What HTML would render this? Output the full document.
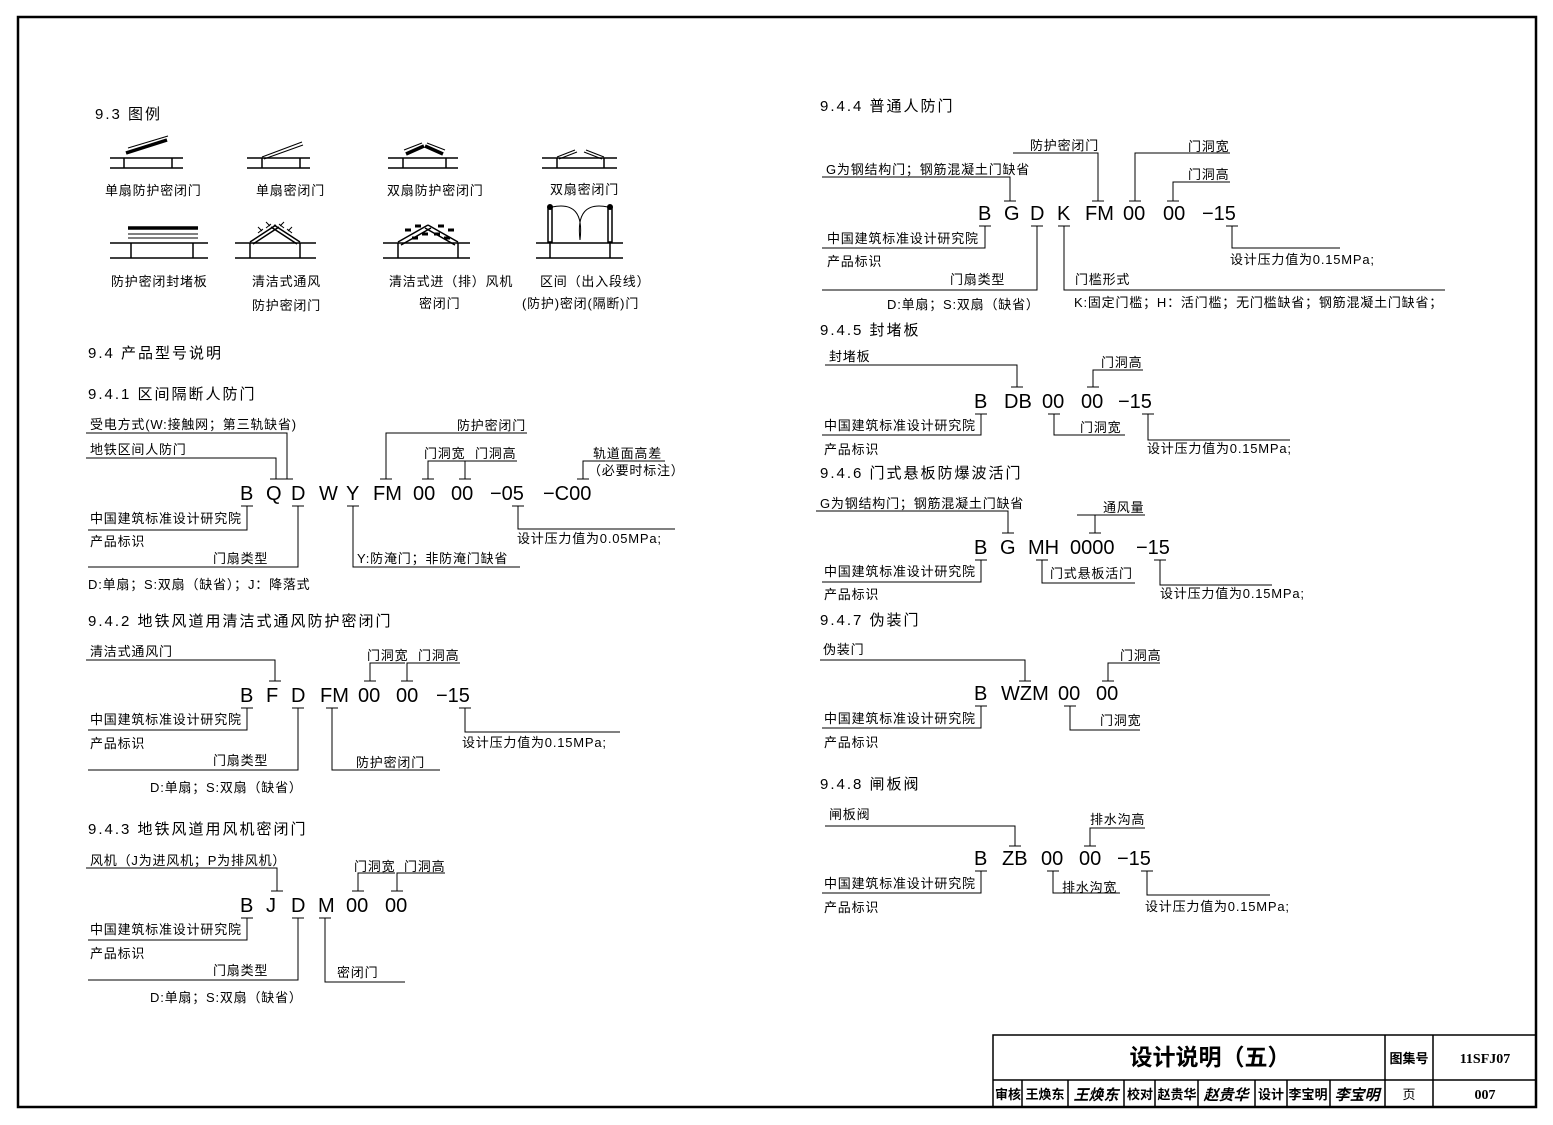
<!DOCTYPE html>
<html><head><meta charset="utf-8"><style>
html,body{margin:0;padding:0;background:#fff}
svg{display:block}
text{font-family:"Liberation Sans","Noto Sans CJK SC","WenQuanYi Zen Hei",sans-serif;fill:#000}
.s{font-size:13px;letter-spacing:0.8px}
.h{font-size:15px;letter-spacing:2px}
.c{font-size:20px;font-weight:normal}
line,path,polyline,rect{stroke:#000;fill:none}
</style></head><body>
<svg width="1553" height="1125" viewBox="0 0 1553 1125" xmlns="http://www.w3.org/2000/svg">
<rect x="18" y="17" width="1518" height="1090" stroke-width="2.5"/>

<!-- 9.3 legend -->
<text class="h" x="95" y="119">9.3  图例</text>
<g stroke-width="1.5">
<line x1="110" y1="158" x2="183" y2="158"/><line x1="110" y1="168" x2="183" y2="168"/>
<line x1="124" y1="158" x2="124" y2="168"/><line x1="172" y1="158" x2="172" y2="168"/>
<line x1="126" y1="153" x2="167" y2="140" stroke-width="3.5"/><line x1="128" y1="148" x2="168" y2="136" stroke-width="1"/>
<line x1="247" y1="158" x2="310" y2="158"/><line x1="247" y1="168" x2="310" y2="168"/>
<line x1="262" y1="158" x2="262" y2="168"/><line x1="300" y1="158" x2="300" y2="168"/>
<line x1="262" y1="157" x2="302" y2="142" stroke-width="1"/><line x1="264" y1="159" x2="303" y2="145" stroke-width="1"/>
<line x1="388" y1="158" x2="458" y2="158"/><line x1="388" y1="168" x2="458" y2="168"/>
<line x1="403" y1="158" x2="403" y2="168"/><line x1="446" y1="158" x2="446" y2="168"/>
<line x1="406" y1="154" x2="424" y2="146" stroke-width="3.5"/><line x1="404" y1="150" x2="422" y2="143" stroke-width="1"/>
<line x1="443" y1="154" x2="425" y2="146" stroke-width="3.5"/><line x1="445" y1="150" x2="427" y2="143" stroke-width="1"/>
<line x1="542" y1="158" x2="617" y2="158"/><line x1="542" y1="168" x2="617" y2="168"/>
<line x1="557" y1="158" x2="557" y2="168"/><line x1="604" y1="158" x2="604" y2="168"/>
<line x1="557" y1="157" x2="575" y2="150" stroke-width="1"/><line x1="559" y1="159" x2="577" y2="152" stroke-width="1"/>
<line x1="604" y1="157" x2="586" y2="150" stroke-width="1"/><line x1="602" y1="159" x2="584" y2="152" stroke-width="1"/>
<line x1="110" y1="243" x2="208" y2="243"/><line x1="110" y1="258" x2="208" y2="258"/>
<line x1="131" y1="243" x2="131" y2="258"/><line x1="193" y1="243" x2="193" y2="258"/>
<line x1="128" y1="228" x2="198" y2="228" stroke-width="3.5"/><line x1="128" y1="234" x2="198" y2="234" stroke-width="1"/><line x1="128" y1="238" x2="198" y2="238" stroke-width="1"/>
<line x1="235" y1="243" x2="316" y2="243"/><line x1="235" y1="258" x2="316" y2="258"/>
<line x1="250" y1="243" x2="250" y2="258"/><line x1="300" y1="243" x2="300" y2="258"/>
<line x1="250" y1="242" x2="276" y2="225"/><line x1="253" y1="244" x2="279" y2="227"/>
<line x1="300" y1="242" x2="274" y2="225"/><line x1="297" y1="244" x2="271" y2="227"/>
<path d="M258 233 l5 -4 M262 231 l-4 -4 M266 228 l5 -4 M270 226 l-4 -4 M292 233 l-5 -4 M288 231 l4 -4 M284 228 l-5 -4 M280 226 l4 -4" stroke-width="1"/>
<line x1="383" y1="243" x2="470" y2="243"/><line x1="383" y1="258" x2="470" y2="258"/>
<line x1="398" y1="243" x2="398" y2="258"/><line x1="458" y1="243" x2="458" y2="258"/>
<line x1="398" y1="242" x2="428" y2="225"/><line x1="401" y1="245" x2="431" y2="228"/>
<line x1="458" y1="242" x2="428" y2="225"/><line x1="455" y1="245" x2="425" y2="228"/>
<path d="M405 230 h6 M415 226 h6 M412 238 h6 M422 234 h6 M438 226 h6 M448 230 h6 M434 234 h6 M444 238 h6" stroke-width="3"/>
<line x1="536" y1="243" x2="623" y2="243"/><line x1="536" y1="258" x2="623" y2="258"/>
<line x1="550" y1="243" x2="550" y2="258"/><line x1="610" y1="243" x2="610" y2="258"/>
<rect x="548" y="208" width="4" height="34" stroke-width="1.5"/><rect x="608" y="208" width="4" height="34" stroke-width="1.5"/>
<circle cx="550" cy="207" r="3" fill="#000"/><circle cx="610" cy="207" r="3" fill="#000"/>
<path d="M552 207 Q585 200 580 240 M608 207 Q575 200 580 240" stroke-width="1"/>
</g>
<text class="s" x="105" y="195">单扇防护密闭门</text>
<text class="s" x="256" y="195">单扇密闭门</text>
<text class="s" x="387" y="195">双扇防护密闭门</text>
<text class="s" x="550" y="194">双扇密闭门</text>
<text class="s" x="111" y="286">防护密闭封堵板</text>
<text class="s" x="252" y="286">清洁式通风</text>
<text class="s" x="252" y="310">防护密闭门</text>
<text class="s" x="389" y="286">清洁式进（排）风机</text>
<text class="s" x="419" y="308">密闭门</text>
<text class="s" x="540" y="286">区间（出入段线）</text>
<text class="s" x="522" y="308">(防护)密闭(隔断)门</text>

<text class="h" x="88" y="358">9.4  产品型号说明</text>
<text class="h" x="88" y="399">9.4.1  区间隔断人防门</text>

<g stroke-width="1">
<polyline points="86,433 287,433 287,479"/><line x1="281" y1="479" x2="293" y2="479"/>
<polyline points="86,458 276,458 276,479"/><line x1="270" y1="479" x2="282" y2="479"/>
<polyline points="527,433 386,433 386,479"/><line x1="380" y1="479" x2="392" y2="479"/>
<polyline points="466,461 428,461 428,479"/><line x1="422" y1="479" x2="434" y2="479"/>
<polyline points="517,461 465,461 465,479"/><line x1="459" y1="479" x2="471" y2="479"/>
<polyline points="665,461 583,461 583,479"/><line x1="577" y1="479" x2="589" y2="479"/>
<line x1="241" y1="506" x2="253" y2="506"/><polyline points="247,506 247,530 88,530"/>
<line x1="292" y1="506" x2="304" y2="506"/><polyline points="298,506 298,567 88,567"/>
<line x1="347" y1="506" x2="359" y2="506"/><polyline points="353,506 353,567 520,567"/>
<line x1="512" y1="506" x2="524" y2="506"/><polyline points="518,506 518,529 675,529"/>
</g>
<text class="s" x="90" y="429">受电方式(W:接触网；第三轨缺省)</text>
<text class="s" x="90" y="454">地铁区间人防门</text>
<text class="s" x="457" y="430">防护密闭门</text>
<text class="s" x="424" y="458">门洞宽</text><text class="s" x="475" y="458">门洞高</text>
<text class="s" x="593" y="458">轨道面高差</text>
<text class="s" x="588" y="475">（必要时标注）</text>
<text class="c" x="240" y="500">B</text><text class="c" x="266" y="500">Q</text><text class="c" x="291" y="500">D</text><text class="c" x="319" y="500">W</text><text class="c" x="346" y="500">Y</text><text class="c" x="373" y="500">FM</text><text class="c" x="413" y="500">00</text><text class="c" x="451" y="500">00</text><text class="c" x="490" y="500">−05</text><text class="c" x="543" y="500">−C00</text>
<text class="s" x="90" y="523">中国建筑标准设计研究院</text>
<text class="s" x="90" y="546">产品标识</text>
<text class="s" x="213" y="563">门扇类型</text>
<text class="s" x="88" y="589">D:单扇；S:双扇（缺省）；J：降落式</text>
<text class="s" x="357" y="563">Y:防淹门；非防淹门缺省</text>
<text class="s" x="517" y="543">设计压力值为0.05MPa;</text>

<text class="h" x="88" y="626">9.4.2  地铁风道用清洁式通风防护密闭门</text>
<g stroke-width="1">
<polyline points="86,660 275,660 275,681"/><line x1="269" y1="681" x2="281" y2="681"/>
<polyline points="405,663 370,663 370,681"/><line x1="364" y1="681" x2="376" y2="681"/>
<polyline points="460,663 407,663 407,681"/><line x1="401" y1="681" x2="413" y2="681"/>
<line x1="241" y1="708" x2="253" y2="708"/><polyline points="247,708 247,730 88,730"/>
<line x1="292" y1="708" x2="304" y2="708"/><polyline points="298,708 298,770 88,770"/>
<line x1="326" y1="708" x2="338" y2="708"/><polyline points="332,708 332,770 440,770"/>
<line x1="459" y1="708" x2="471" y2="708"/><polyline points="465,708 465,732 620,732"/>
</g>
<text class="s" x="90" y="656">清洁式通风门</text>
<text class="s" x="367" y="660">门洞宽</text><text class="s" x="418" y="660">门洞高</text>
<text class="c" x="240" y="702">B</text><text class="c" x="266" y="702">F</text><text class="c" x="291" y="702">D</text><text class="c" x="320" y="702">FM</text><text class="c" x="358" y="702">00</text><text class="c" x="396" y="702">00</text><text class="c" x="436" y="702">−15</text>
<text class="s" x="90" y="724">中国建筑标准设计研究院</text>
<text class="s" x="90" y="748">产品标识</text>
<text class="s" x="213" y="765">门扇类型</text>
<text class="s" x="150" y="792">D:单扇；S:双扇（缺省）</text>
<text class="s" x="356" y="767">防护密闭门</text>
<text class="s" x="462" y="747">设计压力值为0.15MPa;</text>

<text class="h" x="88" y="834">9.4.3  地铁风道用风机密闭门</text>
<g stroke-width="1">
<polyline points="86,868 277,868 277,891"/><line x1="271" y1="891" x2="283" y2="891"/>
<polyline points="395,873 358,873 358,891"/><line x1="352" y1="891" x2="364" y2="891"/>
<polyline points="445,873 397,873 397,891"/><line x1="391" y1="891" x2="403" y2="891"/>
<line x1="241" y1="918" x2="253" y2="918"/><polyline points="247,918 247,940 88,940"/>
<line x1="292" y1="918" x2="304" y2="918"/><polyline points="298,918 298,980 88,980"/>
<line x1="319" y1="918" x2="331" y2="918"/><polyline points="325,918 325,982 405,982"/>
</g>
<text class="s" x="90" y="865">风机（J为进风机；P为排风机）</text>
<text class="s" x="354" y="871">门洞宽</text><text class="s" x="404" y="871">门洞高</text>
<text class="c" x="240" y="912">B</text><text class="c" x="266" y="912">J</text><text class="c" x="291" y="912">D</text><text class="c" x="318" y="912">M</text><text class="c" x="346" y="912">00</text><text class="c" x="385" y="912">00</text>
<text class="s" x="90" y="934">中国建筑标准设计研究院</text>
<text class="s" x="90" y="958">产品标识</text>
<text class="s" x="213" y="975">门扇类型</text>
<text class="s" x="150" y="1002">D:单扇；S:双扇（缺省）</text>
<text class="s" x="337" y="977">密闭门</text>

<text class="h" x="820" y="111">9.4.4  普通人防门</text>
<g stroke-width="1">
<polyline points="1013,153 1098,153 1098,201"/><line x1="1092" y1="201" x2="1104" y2="201"/>
<polyline points="822,177 1010,177 1010,201"/><line x1="1004" y1="201" x2="1016" y2="201"/>
<polyline points="1230,153 1135,153 1135,201"/><line x1="1129" y1="201" x2="1141" y2="201"/>
<polyline points="1230,182 1173,182 1173,201"/><line x1="1167" y1="201" x2="1179" y2="201"/>
<line x1="979" y1="226" x2="991" y2="226"/><polyline points="985,226 985,248 822,248"/>
<line x1="1031" y1="226" x2="1043" y2="226"/><polyline points="1037,226 1037,290 822,290"/>
<line x1="1058" y1="226" x2="1070" y2="226"/><polyline points="1064,226 1064,290 1445,290"/>
<line x1="1226" y1="226" x2="1238" y2="226"/><polyline points="1232,226 1232,248 1340,248"/>
</g>
<text class="s" x="1030" y="150">防护密闭门</text>
<text class="s" x="826" y="174">G为钢结构门；钢筋混凝土门缺省</text>
<text class="s" x="1188" y="151">门洞宽</text>
<text class="s" x="1188" y="179">门洞高</text>
<text class="c" x="978" y="220">B</text><text class="c" x="1004" y="220">G</text><text class="c" x="1030" y="220">D</text><text class="c" x="1057" y="220">K</text><text class="c" x="1085" y="220">FM</text><text class="c" x="1123" y="220">00</text><text class="c" x="1163" y="220">00</text><text class="c" x="1202" y="220">−15</text>
<text class="s" x="827" y="243">中国建筑标准设计研究院</text>
<text class="s" x="827" y="266">产品标识</text>
<text class="s" x="950" y="284">门扇类型</text>
<text class="s" x="887" y="309">D:单扇；S:双扇（缺省）</text>
<text class="s" x="1075" y="284">门槛形式</text>
<text class="s" x="1074" y="307">K:固定门槛；H：活门槛；无门槛缺省；钢筋混凝土门缺省；</text>
<text class="s" x="1230" y="264">设计压力值为0.15MPa;</text>

<text class="h" x="820" y="335">9.4.5  封堵板</text>
<g stroke-width="1">
<polyline points="825,365 1017,365 1017,387"/><line x1="1011" y1="387" x2="1023" y2="387"/>
<polyline points="1143,370 1093,370 1093,387"/><line x1="1087" y1="387" x2="1099" y2="387"/>
<line x1="975" y1="414" x2="987" y2="414"/><polyline points="981,414 981,435 822,435"/>
<line x1="1048" y1="414" x2="1060" y2="414"/><polyline points="1054,414 1054,435 1125,435"/>
<line x1="1142" y1="414" x2="1154" y2="414"/><polyline points="1148,414 1148,440 1290,440"/>
</g>
<text class="s" x="829" y="361">封堵板</text>
<text class="s" x="1101" y="367">门洞高</text>
<text class="c" x="974" y="408">B</text><text class="c" x="1004" y="408">DB</text><text class="c" x="1042" y="408">00</text><text class="c" x="1081" y="408">00</text><text class="c" x="1118" y="408">−15</text>
<text class="s" x="824" y="430">中国建筑标准设计研究院</text>
<text class="s" x="824" y="454">产品标识</text>
<text class="s" x="1080" y="432">门洞宽</text>
<text class="s" x="1147" y="453">设计压力值为0.15MPa;</text>

<text class="h" x="820" y="478">9.4.6  门式悬板防爆波活门</text>
<g stroke-width="1">
<polyline points="816,511 1008,511 1008,533"/><line x1="1002" y1="533" x2="1014" y2="533"/>
<polyline points="1077,515 1145,515"/><line x1="1095" y1="515" x2="1095" y2="533"/><line x1="1089" y1="533" x2="1101" y2="533"/>
<line x1="975" y1="560" x2="987" y2="560"/><polyline points="981,560 981,582 822,582"/>
<line x1="1036" y1="560" x2="1048" y2="560"/><polyline points="1042,560 1042,583 1135,583"/>
<line x1="1154" y1="560" x2="1166" y2="560"/><polyline points="1160,560 1160,585 1272,585"/>
</g>
<text class="s" x="820" y="508">G为钢结构门；钢筋混凝土门缺省</text>
<text class="s" x="1103" y="512">通风量</text>
<text class="c" x="974" y="554">B</text><text class="c" x="1000" y="554">G</text><text class="c" x="1028" y="554">MH</text><text class="c" x="1070" y="554">0000</text><text class="c" x="1136" y="554">−15</text>
<text class="s" x="824" y="576">中国建筑标准设计研究院</text>
<text class="s" x="824" y="599">产品标识</text>
<text class="s" x="1050" y="578">门式悬板活门</text>
<text class="s" x="1160" y="598">设计压力值为0.15MPa;</text>

<text class="h" x="820" y="625">9.4.7  伪装门</text>
<g stroke-width="1">
<polyline points="820,660 1025,660 1025,681"/><line x1="1019" y1="681" x2="1031" y2="681"/>
<polyline points="1160,663 1108,663 1108,681"/><line x1="1102" y1="681" x2="1114" y2="681"/>
<line x1="975" y1="706" x2="987" y2="706"/><polyline points="981,706 981,728 822,728"/>
<line x1="1064" y1="706" x2="1076" y2="706"/><polyline points="1070,706 1070,730 1140,730"/>
</g>
<text class="s" x="823" y="654">伪装门</text>
<text class="s" x="1120" y="660">门洞高</text>
<text class="c" x="974" y="700">B</text><text class="c" x="1001" y="700">WZM</text><text class="c" x="1058" y="700">00</text><text class="c" x="1096" y="700">00</text>
<text class="s" x="824" y="723">中国建筑标准设计研究院</text>
<text class="s" x="824" y="747">产品标识</text>
<text class="s" x="1100" y="725">门洞宽</text>

<text class="h" x="820" y="789">9.4.8  闸板阀</text>
<g stroke-width="1">
<polyline points="825,826 1015,826 1015,846"/><line x1="1009" y1="846" x2="1021" y2="846"/>
<polyline points="1145,828 1090,828 1090,846"/><line x1="1084" y1="846" x2="1096" y2="846"/>
<line x1="975" y1="871" x2="987" y2="871"/><polyline points="981,871 981,893 822,893"/>
<line x1="1047" y1="871" x2="1059" y2="871"/><polyline points="1053,871 1053,893 1120,893"/>
<line x1="1141" y1="871" x2="1153" y2="871"/><polyline points="1147,871 1147,895 1270,895"/>
</g>
<text class="s" x="829" y="819">闸板阀</text>
<text class="s" x="1090" y="824">排水沟高</text>
<text class="c" x="974" y="865">B</text><text class="c" x="1002" y="865">ZB</text><text class="c" x="1041" y="865">00</text><text class="c" x="1079" y="865">00</text><text class="c" x="1117" y="865">−15</text>
<text class="s" x="824" y="888">中国建筑标准设计研究院</text>
<text class="s" x="824" y="912">产品标识</text>
<text class="s" x="1062" y="892">排水沟宽</text>
<text class="s" x="1145" y="911">设计压力值为0.15MPa;</text>

<g stroke-width="1.5">
<polyline points="993,1107 993,1035 1536,1035"/>
<line x1="993" y1="1080" x2="1536" y2="1080"/>
<line x1="1385" y1="1035" x2="1385" y2="1107"/>
<line x1="1433" y1="1035" x2="1433" y2="1107"/>
<line x1="1022" y1="1080" x2="1022" y2="1107"/>
<line x1="1068" y1="1080" x2="1068" y2="1107"/>
<line x1="1124" y1="1080" x2="1124" y2="1107"/>
<line x1="1155" y1="1080" x2="1155" y2="1107"/>
<line x1="1198" y1="1080" x2="1198" y2="1107"/>
<line x1="1255" y1="1080" x2="1255" y2="1107"/>
<line x1="1287" y1="1080" x2="1287" y2="1107"/>
<line x1="1330" y1="1080" x2="1330" y2="1107"/>
</g>
<text x="1210" y="1065" text-anchor="middle" style="font-size:23px;font-weight:bold">设计说明（五）</text>
<text x="1409" y="1063" text-anchor="middle" style="font-size:13px;font-weight:bold">图集号</text>
<text x="1485" y="1063" text-anchor="middle" style="font-size:14px;font-family:'Liberation Serif',serif;font-weight:bold">11SFJ07</text>
<text x="1008" y="1099" text-anchor="middle" style="font-size:13px;font-weight:bold">审核</text>
<text x="1045" y="1099" text-anchor="middle" style="font-size:13px;font-weight:bold">王焕东</text>
<text x="1096" y="1100" text-anchor="middle" style="font-size:15px;font-style:italic;font-weight:bold">王焕东</text>
<text x="1140" y="1099" text-anchor="middle" style="font-size:13px;font-weight:bold">校对</text>
<text x="1177" y="1099" text-anchor="middle" style="font-size:13px;font-weight:bold">赵贵华</text>
<text x="1226" y="1100" text-anchor="middle" style="font-size:15px;font-style:italic;font-weight:bold">赵贵华</text>
<text x="1271" y="1099" text-anchor="middle" style="font-size:13px;font-weight:bold">设计</text>
<text x="1308" y="1099" text-anchor="middle" style="font-size:13px;font-weight:bold">李宝明</text>
<text x="1357" y="1100" text-anchor="middle" style="font-size:15px;font-style:italic;font-weight:bold">李宝明</text>
<text x="1409" y="1099" text-anchor="middle" style="font-size:13px">页</text>
<text x="1485" y="1099" text-anchor="middle" style="font-size:14px;font-family:'Liberation Serif',serif;font-weight:bold">007</text>
</svg>
</body></html>
